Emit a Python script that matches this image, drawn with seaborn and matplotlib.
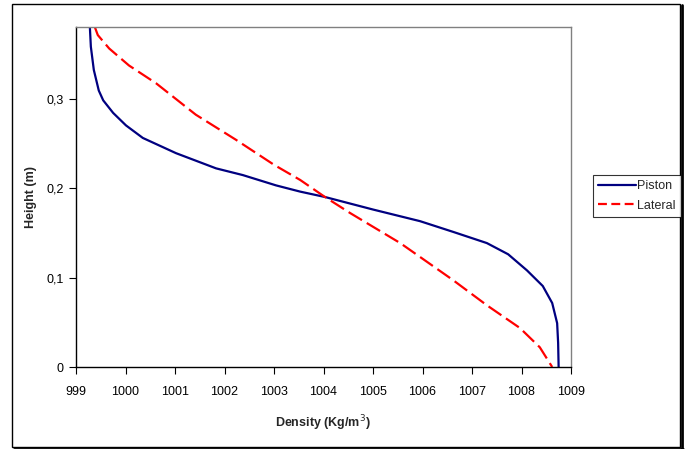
import matplotlib
matplotlib.use("Agg")
import matplotlib.pyplot as plt
import seaborn as sns
import pandas as pd
from matplotlib.patches import Rectangle
from matplotlib.lines import Line2D

piston_density = [999.28, 999.30, 999.36, 999.46, 999.55, 999.75, 1000.01, 1000.35, 1001.02,
                  1001.83, 1002.37, 1003.04, 1003.53, 1004.03, 1005.0, 1005.95, 1006.62,
                  1007.3, 1007.73, 1008.11, 1008.43, 1008.62, 1008.72, 1008.74, 1008.75]
piston_height = [0.380, 0.358, 0.332, 0.309, 0.298, 0.284, 0.270, 0.256, 0.239,
                 0.222, 0.2145, 0.203, 0.196, 0.190, 0.176, 0.163, 0.151,
                 0.1385, 0.126, 0.108, 0.0905, 0.0715, 0.049, 0.027, 0.0]
lateral_density = [999.38, 999.44, 999.67, 1000.07, 1000.62, 1001.42, 1002.23, 1003.0,
                   1003.53, 1004.03, 1004.54, 1005.55, 1005.95, 1006.62, 1007.3, 1007.97,
                   1008.37, 1008.62]
lateral_height = [0.380, 0.371, 0.356, 0.337, 0.317, 0.282, 0.254, 0.226,
                  0.209, 0.190, 0.172, 0.1385, 0.123, 0.097, 0.069, 0.0435,
                  0.022, 0.0]
x_ticks = [999, 1000, 1001, 1002, 1003, 1004, 1005, 1006, 1007, 1008, 1009]
y_ticks = [0, 0.1, 0.2, 0.3]
y_tick_labels = ["0", "0,1", "0,2", "0,3"]
series_labels = ["Piston", "Lateral"]

sns.set_theme(style="white")
plt.rcParams['font.family'] = ['Liberation Sans', 'DejaVu Sans']

fig = plt.figure(figsize=(6.88, 4.49), dpi=100)
W, H = 688, 449
ax = fig.add_axes([76 / W, 1 - 367 / H, (571 - 76) / W, (367 - 27) / H])

df_p = pd.DataFrame({"Density": piston_density, "Height": piston_height})
df_l = pd.DataFrame({"Density": lateral_density, "Height": lateral_height})
sns.lineplot(data=df_p, x="Density", y="Height", sort=False, estimator=None,
             color="#000080", lw=1.6, ax=ax)
sns.lineplot(data=df_l, x="Density", y="Height", sort=False, estimator=None,
             color="#ff0000", lw=1.6, ax=ax)
ax.lines[-1].set_dashes((7, 2.5))

ax.set_xlim(999, 1009)
ax.set_ylim(0, 0.38)
ax.set_xticks(x_ticks)
ax.set_xticklabels([str(t) for t in x_ticks])
ax.set_yticks(y_ticks)
ax.set_yticklabels(y_tick_labels)
ax.tick_params(axis="both", which="major", direction="out", length=5, width=0.8,
               color="black", labelsize=9, labelcolor="black", bottom=True, left=True)
ax.tick_params(axis="x", pad=9)
ax.tick_params(axis="y", pad=4)
for s in ["left", "bottom"]:
    ax.spines[s].set_color("black")
    ax.spines[s].set_linewidth(1.0)
for s in ["top", "right"]:
    ax.spines[s].set_color("#808080")
    ax.spines[s].set_linewidth(1.0)
ax.grid(False)

ax.set_xlabel("Density (Kg/m$^3$)", fontsize=9, fontweight="bold", va="center")
ax.set_ylabel("Height (m)", fontsize=9, fontweight="bold", va="center")
ax.xaxis.set_label_coords((323 - 76) / 495, (367 - 423) / 340)
ax.yaxis.set_label_coords((31 - 76) / 495, (367 - 197) / 340)

handles = [Line2D([0], [0], color="#000080", lw=1.6),
           Line2D([0], [0], color="#ff0000", lw=1.6, dashes=(4, 2))]
leg = fig.legend(handles, series_labels, loc="center",
                 bbox_to_anchor=(637 / W, 1 - 196 / H), frameon=True, fancybox=False,
                 edgecolor="black", fontsize=9, handlelength=3.0, handletextpad=0.1,
                 borderpad=0.45, labelspacing=0.6, borderaxespad=0)
leg.get_frame().set_linewidth(0.8)

# outer chart border with shadow
fig.patches.append(Rectangle((12 / W, 1 - 447 / H), (680 - 12) / W, (447 - 4) / H,
                             transform=fig.transFigure, fill=False, edgecolor="black",
                             lw=1.0))
fig.lines.append(Line2D([682 / W, 682 / W], [1 - 449 / H, 1 - 5 / H],
                        transform=fig.transFigure, color="black", lw=2.0))
fig.lines.append(Line2D([14 / W, 683 / W], [1 - 448.5 / H, 1 - 448.5 / H],
                        transform=fig.transFigure, color="black", lw=2.0))

fig.savefig("out.png", dpi=100)
